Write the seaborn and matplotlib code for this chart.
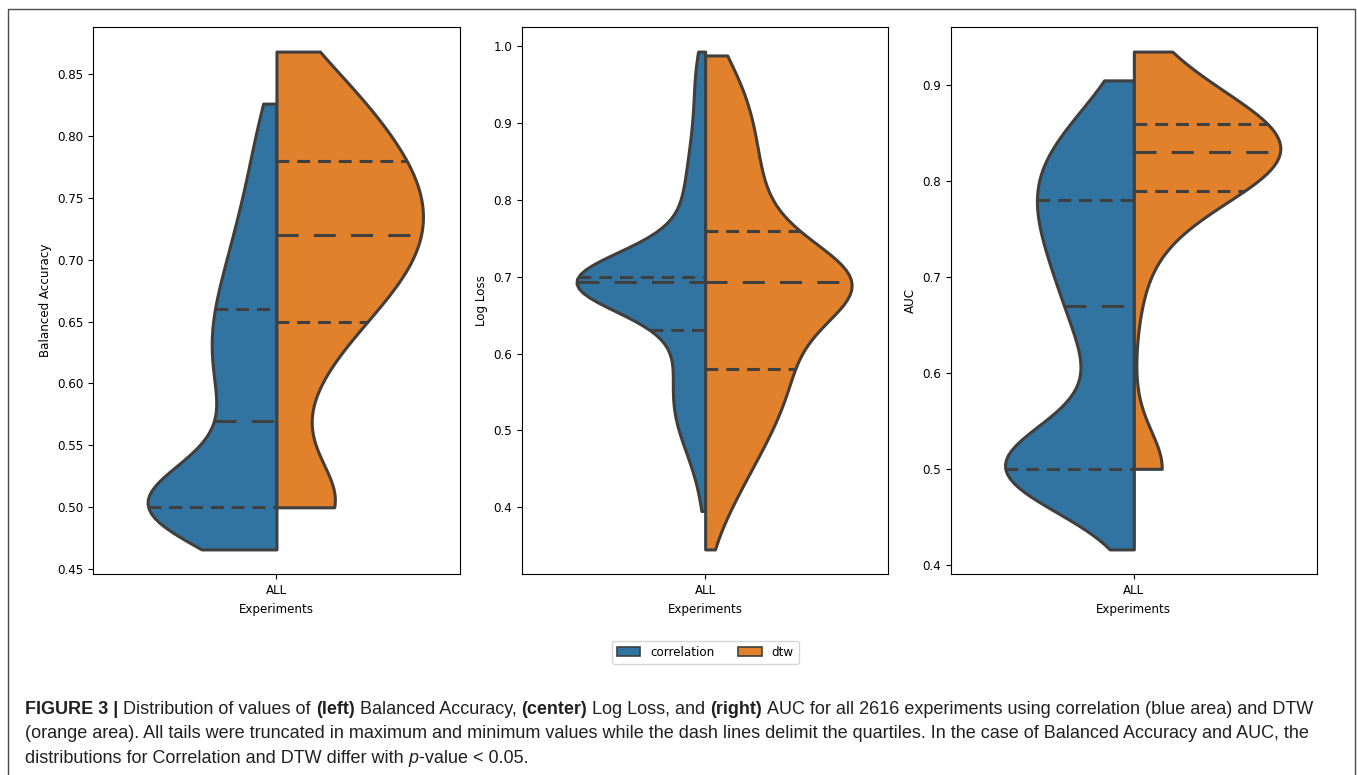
import numpy as np
import pandas as pd
import matplotlib
matplotlib.use("Agg")
import matplotlib.pyplot as plt
from matplotlib.patches import Rectangle
import seaborn as sns

# ---------------------------------------------------------------------------
# Data: relative frequency of each observed metric value, per method
# ---------------------------------------------------------------------------
methods = ["correlation", "dtw"]
method_sizes = {"correlation": 2300, "dtw": 2616}
category = "ALL"

# Balanced Accuracy
ba_corr_values = [0.466, 0.47, 0.48, 0.49, 0.50, 0.51, 0.52, 0.53, 0.54, 0.55,
                  0.56, 0.57, 0.58, 0.59, 0.60, 0.61, 0.62, 0.63, 0.64, 0.65,
                  0.66, 0.67, 0.68, 0.69, 0.70, 0.71, 0.72, 0.73, 0.74, 0.75,
                  0.76, 0.77, 0.78, 0.79, 0.80, 0.81, 0.82, 0.826]
ba_corr_weights = [0.12, 0.15, 0.19, 0.23, 6.45, 0.26, 0.29, 0.30, 0.31, 0.32,
                   0.35, 0.38, 0.41, 0.47, 0.50, 0.51, 0.52, 0.52, 0.54, 0.53,
                   0.52, 0.44, 0.42, 0.40, 0.38, 0.36, 0.33, 0.30, 0.28, 0.25,
                   0.23, 0.21, 0.19, 0.17, 0.16, 0.15, 0.15, 0.15]
ba_dtw_values = [0.50, 0.51, 0.52, 0.53, 0.54, 0.55, 0.56, 0.57, 0.58, 0.59,
                 0.60, 0.61, 0.62, 0.63, 0.64, 0.65, 0.66, 0.67, 0.68, 0.69,
                 0.70, 0.71, 0.72, 0.73, 0.74, 0.75, 0.76, 0.77, 0.78, 0.79,
                 0.80, 0.81, 0.82, 0.83, 0.84, 0.85, 0.86, 0.868]
ba_dtw_weights = [2.85, 0.10, 0.09, 0.11, 0.12, 0.13, 0.13, 0.13, 0.17, 0.20,
                  0.24, 0.28, 0.33, 0.41, 0.50, 0.59, 0.67, 0.75, 0.82, 0.89,
                  0.95, 0.99, 1.01, 1.02, 1.01, 0.99, 0.96, 0.93, 0.89, 0.83,
                  0.76, 0.69, 0.62, 0.56, 0.50, 0.44, 0.38, 0.34]

# Log Loss
ll_corr_values = [0.395, 0.40, 0.41, 0.42, 0.43, 0.44, 0.45, 0.46, 0.47, 0.48,
                  0.49, 0.50, 0.51, 0.52, 0.53, 0.54, 0.55, 0.56, 0.57, 0.58,
                  0.59, 0.60, 0.61, 0.62, 0.63, 0.64, 0.65, 0.66, 0.67, 0.68,
                  0.69, 0.6931, 0.70, 0.71, 0.72, 0.73, 0.74, 0.75, 0.76, 0.77,
                  0.78, 0.79, 0.80, 0.81, 0.82, 0.83, 0.84, 0.85, 0.86, 0.87,
                  0.88, 0.89, 0.90, 0.91, 0.92, 0.93, 0.94, 0.95, 0.96, 0.97,
                  0.98, 0.99, 0.993]
ll_corr_weights = [0.03, 0.03, 0.03, 0.04, 0.05, 0.06, 0.08, 0.11, 0.14, 0.17,
                   0.20, 0.24, 0.26, 0.28, 0.29, 0.29, 0.28, 0.27, 0.25, 0.23,
                   0.21, 0.23, 0.24, 0.25, 0.25, 0.25, 0.24, 0.23, 0.22, 0.22,
                   0.22, 7.42, 0.30, 0.22, 0.24, 0.23, 0.23, 0.23, 0.22, 0.20,
                   0.21, 0.19, 0.18, 0.17, 0.16, 0.15, 0.15, 0.145, 0.14, 0.12,
                   0.11, 0.10, 0.09, 0.085, 0.08, 0.08, 0.085, 0.09, 0.09, 0.09,
                   0.09, 0.10, 0.07]
ll_dtw_values = [0.345, 0.35, 0.36, 0.37, 0.38, 0.39, 0.40, 0.41, 0.42, 0.43,
                 0.44, 0.45, 0.46, 0.47, 0.48, 0.49, 0.50, 0.51, 0.52, 0.53,
                 0.54, 0.55, 0.56, 0.57, 0.58, 0.59, 0.60, 0.61, 0.62, 0.63,
                 0.64, 0.65, 0.66, 0.67, 0.68, 0.69, 0.6931, 0.70, 0.71, 0.72,
                 0.73, 0.74, 0.75, 0.76, 0.77, 0.78, 0.79, 0.80, 0.81, 0.82,
                 0.83, 0.84, 0.85, 0.86, 0.87, 0.88, 0.89, 0.90, 0.91, 0.92,
                 0.93, 0.94, 0.95, 0.96, 0.97, 0.98, 0.988]
ll_dtw_weights = [0.02, 0.04, 0.07, 0.10, 0.13, 0.16, 0.19, 0.22, 0.25, 0.28,
                  0.31, 0.34, 0.38, 0.41, 0.45, 0.48, 0.51, 0.54, 0.57, 0.59,
                  0.62, 0.64, 0.66, 0.67, 0.68, 0.69, 0.69, 0.68, 0.66, 0.64,
                  0.62, 0.61, 0.60, 0.60, 0.60, 0.60, 6.00, 0.61, 0.58, 0.56,
                  0.55, 0.54, 0.53, 0.52, 0.49, 0.49, 0.48, 0.44, 0.43, 0.42,
                  0.41, 0.40, 0.40, 0.39, 0.39, 0.38, 0.38, 0.39, 0.38, 0.34,
                  0.32, 0.30, 0.28, 0.27, 0.26, 0.26, 0.26]

# AUC
auc_corr_values = [0.416, 0.43, 0.45, 0.47, 0.49, 0.50, 0.51, 0.52, 0.53, 0.54,
                   0.55, 0.56, 0.57, 0.58, 0.59, 0.60, 0.61, 0.62, 0.63, 0.64,
                   0.65, 0.66, 0.67, 0.68, 0.69, 0.70, 0.71, 0.72, 0.73, 0.74,
                   0.75, 0.76, 0.77, 0.78, 0.79, 0.80, 0.81, 0.82, 0.83, 0.84,
                   0.85, 0.86, 0.87, 0.88, 0.89, 0.90, 0.905]
auc_corr_weights = [0.015, 0.01, 0.015, 0.015, 0.02, 10.03, 0.04, 0.05, 0.07, 0.09,
                    0.12, 0.16, 0.19, 0.22, 0.26, 0.30, 0.35, 0.39, 0.42, 0.44,
                    0.46, 0.48, 0.50, 0.52, 0.54, 0.565, 0.59, 0.615, 0.64, 0.665,
                    0.68, 0.71, 0.74, 0.77, 0.79, 0.80, 0.79, 0.76, 0.71, 0.64,
                    0.56, 0.48, 0.40, 0.32, 0.24, 0.16, 0.12]
auc_dtw_values = [0.50, 0.54, 0.55, 0.56, 0.57, 0.58, 0.62, 0.63, 0.64, 0.65,
                  0.66, 0.67, 0.68, 0.69, 0.70, 0.71, 0.72, 0.73, 0.74, 0.75,
                  0.76, 0.77, 0.78, 0.79, 0.80, 0.81, 0.82, 0.83, 0.84, 0.85,
                  0.86, 0.87, 0.88, 0.89, 0.90, 0.91, 0.92, 0.93, 0.935]
auc_dtw_weights = [1.59, 0.012, 0.015, 0.015, 0.01, 0.005, 0.005, 0.01, 0.015, 0.02,
                   0.03, 0.04, 0.05, 0.065, 0.07, 0.085, 0.10, 0.13, 0.16, 0.21,
                   0.28, 0.37, 0.48, 0.70, 0.90, 1.03, 1.13, 1.17, 1.15, 1.08,
                   0.97, 0.79, 0.65, 0.52, 0.40, 0.31, 0.25, 0.22, 0.22]

metric_labels = ["Balanced Accuracy", "Log Loss", "AUC"]

palette = {"correlation": "#1f77b4", "dtw": "#ff7f0e"}
line_color = "#3f3f3f"
violin_lw = 2.2


def observations(values, weights, n):
    """Expand value/frequency pairs into n individual experiment results."""
    w = np.asarray(weights, dtype=float)
    counts = np.maximum(np.rint(w / w.sum() * n).astype(int), 1)
    return np.repeat(np.asarray(values, dtype=float), counts)


def metric_frame(corr_values, corr_weights, dtw_values, dtw_weights):
    parts = []
    for method, vals, wts in (("correlation", corr_values, corr_weights),
                              ("dtw", dtw_values, dtw_weights)):
        obs = observations(vals, wts, method_sizes[method])
        parts.append(pd.DataFrame({"Experiments": category,
                                   "method": method,
                                   "value": obs}))
    return pd.concat(parts, ignore_index=True)


frames = [
    metric_frame(ba_corr_values, ba_corr_weights, ba_dtw_values, ba_dtw_weights),
    metric_frame(ll_corr_values, ll_corr_weights, ll_dtw_values, ll_dtw_weights),
    metric_frame(auc_corr_values, auc_corr_weights, auc_dtw_values, auc_dtw_weights),
]

# ---------------------------------------------------------------------------
# Figure
# ---------------------------------------------------------------------------
plt.rcParams["font.size"] = 8.6
W, H = 1357, 775
fig = plt.figure(figsize=(W / 100, H / 100), dpi=100)

ax_lefts = [93.3, 522.0, 950.7]
ax_width, ax_top, ax_bottom = 366.3, 26.7, 574.3

quartile_dashes = (4.2, 2.6)
median_dashes = (7.2, 5.0)

axes = []
for i, (df, label) in enumerate(zip(frames, metric_labels)):
    ax = fig.add_axes([ax_lefts[i] / W, 1 - ax_bottom / H,
                       ax_width / W, (ax_bottom - ax_top) / H])
    sns.violinplot(data=df, x="Experiments", y="value", hue="method",
                   hue_order=methods, palette=palette, split=True,
                   inner="quart", cut=0, density_norm="count",
                   common_norm=True, bw_method=0.34, linewidth=violin_lw,
                   linecolor=line_color, ax=ax, legend=(i == 1))
    ax.set_ylabel(label)
    ax.set_xlabel("Experiments")

    # Quartile markers: short dashes for Q1/Q3, long dashes for the median
    hlines = [ln for ln in ax.lines
              if len(ln.get_ydata()) == 2
              and ln.get_ydata()[0] == ln.get_ydata()[1]]
    for k in range(0, len(hlines) - len(hlines) % 3, 3):
        trio = sorted(hlines[k:k + 3], key=lambda ln: ln.get_ydata()[0])
        for j, ln in enumerate(trio):
            ln.set_color(line_color)
            ln.set_linewidth(violin_lw)
            ln.set_dashes(median_dashes if j == 1 else quartile_dashes)
    axes.append(ax)

sns.move_legend(axes[1], "upper center", bbox_to_anchor=(0.5, -0.111),
                ncol=2, title=None, frameon=True)
for handle in axes[1].get_legend().legend_handles:
    handle.set_linewidth(1.2)

# Frame around the whole figure panel
fig.add_artist(Rectangle((8 / W, -0.05), (1355 - 8) / W, (H - 9) / H + 0.05,
                         transform=fig.transFigure, fill=False,
                         edgecolor="#4a4a4a", linewidth=1.0, clip_on=False))

# ---------------------------------------------------------------------------
# Caption with mixed bold / italic runs
# ---------------------------------------------------------------------------
caption_font = "Liberation Sans"
caption_color = "#231f20"
caption_lines = [
    [("FIGURE 3 |", "bold", "normal"),
     (" Distribution of values of ", "normal", "normal"),
     ("(left)", "bold", "normal"),
     (" Balanced Accuracy, ", "normal", "normal"),
     ("(center)", "bold", "normal"),
     (" Log Loss, and ", "normal", "normal"),
     ("(right)", "bold", "normal"),
     (" AUC for all 2616 experiments using correlation (blue area) and DTW",
      "normal", "normal")],
    [("(orange area). All tails were truncated in maximum and minimum values "
      "while the dash lines delimit the quartiles. In the case of Balanced "
      "Accuracy and AUC, the", "normal", "normal")],
    [("distributions for Correlation and DTW differ with ", "normal", "normal"),
     ("p", "normal", "italic"),
     ("-value < 0.05.", "normal", "normal")],
]
caption_x = 25
caption_baselines = [714, 738.5, 763]
caption_line1_width = 1293

renderer = fig.canvas.get_renderer()


def text_width(s, size, weight, style):
    t = fig.text(0, 0, s, fontsize=size, fontweight=weight, fontstyle=style,
                 family=caption_font)
    w = t.get_window_extent(renderer).width
    t.remove()
    return w


def run_parts(run, size):
    s, weight, style = run
    core = s.strip(" ")
    n_lead = len(s) - len(s.lstrip(" "))
    n_trail = len(s) - len(s.rstrip(" "))
    space = text_width("a a", size, weight, style) - text_width("aa", size, weight, style)
    return n_lead * space, core, text_width(core, size, weight, style), n_trail * space


def line_width(runs, size):
    total = 0
    for run in runs:
        lead, _, w, trail = run_parts(run, size)
        total += lead + w + trail
    return total


base_size = 12.0
caption_size = base_size * caption_line1_width / line_width(caption_lines[0], base_size)

for runs, base in zip(caption_lines, caption_baselines):
    x = caption_x
    for run in runs:
        lead, core, w, trail = run_parts(run, caption_size)
        x += lead
        fig.text(x / W, 1 - base / H, core, fontsize=caption_size,
                 fontweight=run[1], fontstyle=run[2], family=caption_font,
                 color=caption_color, ha="left", va="baseline")
        x += w + trail

fig.savefig("out.png", dpi=100)
